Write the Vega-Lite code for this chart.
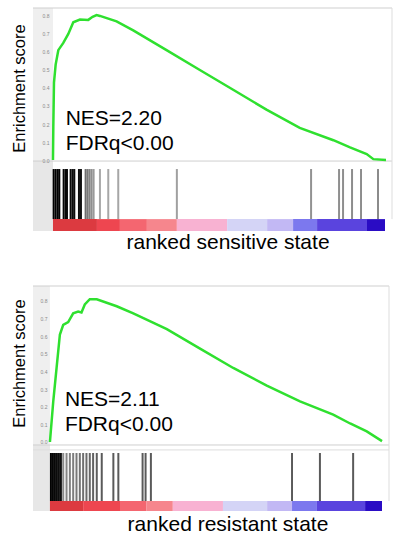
{
  "$schema": "https://vega.github.io/schema/vega-lite/v6.json",
  "background": "white",
  "padding": {"left": 10, "top": 7, "right": 0, "bottom": 0},
  "config": {"font": "Liberation Sans", "view": {"stroke": null}, "axis": {"labelOverlap": false}, "axisY": {"labelOverlap": false}},
  "spacing": 33,
  "resolve": {"scale": {"stroke": "independent", "fill": "independent"}},
  "datasets": {
    "es1": [
      {"rank": 0, "es": 0}, {"rank": 1, "es": 0.185}, {"rank": 3, "es": 0.43}, {"rank": 8, "es": 0.53},
      {"rank": 16, "es": 0.61}, {"rank": 31, "es": 0.65}, {"rank": 46, "es": 0.7}, {"rank": 61, "es": 0.765},
      {"rank": 81, "es": 0.78}, {"rank": 106, "es": 0.778}, {"rank": 119, "es": 0.795}, {"rank": 131, "es": 0.805},
      {"rank": 141, "es": 0.8}, {"rank": 191, "es": 0.77}, {"rank": 241, "es": 0.72}, {"rank": 341, "es": 0.61},
      {"rank": 441, "es": 0.5}, {"rank": 541, "es": 0.39}, {"rank": 641, "es": 0.28}, {"rank": 741, "es": 0.178},
      {"rank": 842, "es": 0.11}, {"rank": 892, "es": 0.07}, {"rank": 942, "es": 0.033}, {"rank": 962, "es": 0.005},
      {"rank": 1000, "es": 0.0}
    ],
    "es2": [
      {"rank": 0, "es": 0}, {"rank": 10, "es": 0.23}, {"rank": 20, "es": 0.42}, {"rank": 30, "es": 0.61},
      {"rank": 40, "es": 0.665}, {"rank": 55, "es": 0.68}, {"rank": 70, "es": 0.73}, {"rank": 85, "es": 0.74},
      {"rank": 95, "es": 0.735}, {"rank": 105, "es": 0.78}, {"rank": 120, "es": 0.81}, {"rank": 141, "es": 0.81},
      {"rank": 201, "es": 0.77}, {"rank": 251, "es": 0.73}, {"rank": 352, "es": 0.64}, {"rank": 452, "es": 0.53},
      {"rank": 552, "es": 0.42}, {"rank": 653, "es": 0.32}, {"rank": 753, "es": 0.23}, {"rank": 853, "es": 0.155},
      {"rank": 904, "es": 0.105}, {"rank": 954, "es": 0.06}, {"rank": 1000, "es": 0.005}
    ],
    "hits1": [
      {"rank": 2}, {"rank": 8}, {"rank": 14}, {"rank": 19}, {"rank": 32}, {"rank": 38}, {"rank": 42},
      {"rank": 53}, {"rank": 59}, {"rank": 64}, {"rank": 78}, {"rank": 84}, {"rank": 98}, {"rank": 104},
      {"rank": 110}, {"rank": 116}, {"rank": 122}, {"rank": 141}, {"rank": 166}, {"rank": 196}, {"rank": 372},
      {"rank": 775}, {"rank": 859}, {"rank": 871}, {"rank": 898}, {"rank": 925}, {"rank": 976}
    ],
    "hits2": [
      {"rank": 3}, {"rank": 9}, {"rank": 15}, {"rank": 21}, {"rank": 27}, {"rank": 33}, {"rank": 40},
      {"rank": 50}, {"rank": 60}, {"rank": 70}, {"rank": 80}, {"rank": 90}, {"rank": 100}, {"rank": 110},
      {"rank": 120}, {"rank": 130}, {"rank": 141}, {"rank": 156}, {"rank": 191}, {"rank": 206}, {"rank": 279},
      {"rank": 288}, {"rank": 304}, {"rank": 729}, {"rank": 813}, {"rank": 913}
    ],
    "bar1": [
      {"start": 0, "end": 132, "level": 1}, {"start": 132, "end": 201, "level": 2}, {"start": 201, "end": 282, "level": 3},
      {"start": 282, "end": 372, "level": 4}, {"start": 372, "end": 523, "level": 5}, {"start": 523, "end": 643, "level": 6},
      {"start": 643, "end": 721, "level": 7}, {"start": 721, "end": 793, "level": 8}, {"start": 793, "end": 943, "level": 9},
      {"start": 943, "end": 997, "level": 10}
    ],
    "bar2": [
      {"start": 0, "end": 100, "level": 1}, {"start": 100, "end": 211, "level": 2}, {"start": 211, "end": 291, "level": 3},
      {"start": 291, "end": 370, "level": 4}, {"start": 370, "end": 521, "level": 5}, {"start": 521, "end": 654, "level": 6},
      {"start": 654, "end": 729, "level": 7}, {"start": 729, "end": 804, "level": 8}, {"start": 804, "end": 949, "level": 9},
      {"start": 949, "end": 1000, "level": 10}
    ],
    "stats1": [{"nes": "NES=2.20", "fdr": "FDRq<0.00"}],
    "stats2": [{"nes": "NES=2.11", "fdr": "FDRq<0.00"}],
    "one": [{}]
  },
  "vconcat": [
    {
      "width": 359, "height": 223,
      "layer": [
        {
          "data": {"name": "one"},
          "mark": {"type": "rect", "color": "#efefef"},
          "encoding": {
            "x": {"datum": -60, "type": "quantitative", "scale": {"domain": [-60, 1018], "nice": false, "zero": false},
              "axis": {"title": "ranked sensitive state", "labels": false, "ticks": false, "domain": false, "grid": false,
                "titleFontSize": 21, "titleFontWeight": "normal", "titleColor": "#000", "titlePadding": 0, "titleX": 194.5}},
            "x2": {"datum": 0},
            "y": {"datum": 0.844, "type": "quantitative", "scale": {"domain": [-0.394, 0.844], "nice": false, "zero": false},
              "axis": {"title": "Enrichment score", "titleFontSize": 16.5, "titleFontWeight": "normal", "titleColor": "#000", "titlePadding": 6, "titleY": 80,
                "values": [0, 0.1, 0.2, 0.3, 0.4, 0.5, 0.6, 0.7, 0.8], "tickCount": 9, "format": ".1f", "labelFontSize": 5, "labelColor": "#8a8a8a",
                "labelOverlap": false, "labelSeparation": 0, "ticks": false, "tickSize": 0, "domain": false, "grid": false, "labelPadding": -16, "minExtent": 0, "zindex": 1}},
            "y2": {"datum": -0.0056}
          }
        },
        {
          "data": {"name": "one"},
          "mark": {"type": "rect", "color": "#e7e7e7"},
          "encoding": {
            "x": {"datum": -60, "type": "quantitative", "scale": {"domain": [-60, 1018], "nice": false, "zero": false}},
            "x2": {"datum": 0},
            "y": {"datum": -0.0056, "type": "quantitative", "scale": {"domain": [-0.394, 0.844], "nice": false, "zero": false}},
            "y2": {"datum": -0.394}
          }
        },
        {
          "data": {"name": "one"},
          "mark": {"type": "rule", "color": "#cfcfcf", "strokeWidth": 1},
          "encoding": {
            "x": {"datum": -60, "type": "quantitative", "scale": {"domain": [-60, 1018], "nice": false, "zero": false}},
            "x2": {"datum": 1018},
            "y": {"datum": 0.844, "type": "quantitative", "scale": {"domain": [-0.394, 0.844], "nice": false, "zero": false}}
          }
        },
        {
          "data": {"name": "one"},
          "mark": {"type": "rule", "color": "#cfcfcf", "strokeWidth": 1},
          "encoding": {
            "x": {"datum": -60, "type": "quantitative", "scale": {"domain": [-60, 1018], "nice": false, "zero": false}},
            "x2": {"datum": 1018},
            "y": {"datum": -0.0056, "type": "quantitative", "scale": {"domain": [-0.394, 0.844], "nice": false, "zero": false}}
          }
        },
        {
          "data": {"name": "one"},
          "mark": {"type": "rule", "color": "#dddddd", "strokeWidth": 1},
          "encoding": {
            "x": {"datum": 1018, "type": "quantitative", "scale": {"domain": [-60, 1018], "nice": false, "zero": false}},
            "y": {"datum": 0.844, "type": "quantitative", "scale": {"domain": [-0.394, 0.844], "nice": false, "zero": false}},
            "y2": {"datum": -0.328}
          }
        },
        {
          "data": {"name": "es1"},
          "mark": {"type": "line", "color": "#2fe02f", "strokeWidth": 2.5},
          "encoding": {
            "x": {"field": "rank", "type": "quantitative", "scale": {"domain": [-60, 1018], "nice": false, "zero": false}},
            "y": {"field": "es", "type": "quantitative", "scale": {"domain": [-0.394, 0.844], "nice": false, "zero": false}}
          }
        },
        {
          "data": {"name": "hits1"},
          "mark": {"type": "rule", "strokeWidth": 2},
          "encoding": {
            "x": {"field": "rank", "type": "quantitative", "scale": {"domain": [-60, 1018], "nice": false, "zero": false}},
            "y": {"datum": -0.05, "type": "quantitative", "scale": {"domain": [-0.394, 0.844], "nice": false, "zero": false}},
            "y2": {"datum": -0.328},
            "stroke": {"field": "rank", "type": "quantitative", "scale": {"domain": [0, 88, 96, 130, 1000], "range": ["#000000", "#111111", "#6a6a6a", "#a8a8a8", "#8a8a8a"]}, "legend": null}
          }
        },
        {
          "data": {"name": "bar1"},
          "mark": {"type": "rect"},
          "encoding": {
            "x": {"field": "start", "type": "quantitative", "scale": {"domain": [-60, 1018], "nice": false, "zero": false}},
            "x2": {"field": "end"},
            "y": {"datum": -0.328, "type": "quantitative", "scale": {"domain": [-0.394, 0.844], "nice": false, "zero": false}},
            "y2": {"datum": -0.394},
            "fill": {"field": "level", "type": "ordinal", "scale": {"domain": [1, 2, 3, 4, 5, 6, 7, 8, 9, 10],
              "range": ["#dc3a40", "#ee4650", "#f46670", "#f6868d", "#f8b2d2", "#d4d4f6", "#c2b8f4", "#7c78ee", "#5a44de", "#2a0cc4"]}, "legend": null}
          }
        },
        {
          "data": {"name": "stats1"},
          "mark": {"type": "text", "align": "left", "baseline": "alphabetic", "fontSize": 21, "color": "#000"},
          "encoding": {
            "x": {"datum": 38, "type": "quantitative", "scale": {"domain": [-60, 1018], "nice": false, "zero": false}},
            "y": {"datum": 0.194, "type": "quantitative", "scale": {"domain": [-0.394, 0.844], "nice": false, "zero": false}},
            "text": {"field": "nes"}
          }
        },
        {
          "data": {"name": "stats1"},
          "mark": {"type": "text", "align": "left", "baseline": "alphabetic", "fontSize": 21, "color": "#000"},
          "encoding": {
            "x": {"datum": 38, "type": "quantitative", "scale": {"domain": [-60, 1018], "nice": false, "zero": false}},
            "y": {"datum": 0.056, "type": "quantitative", "scale": {"domain": [-0.394, 0.844], "nice": false, "zero": false}},
            "text": {"field": "fdr"}
          }
        }
      ]
    },
    {
      "width": 356, "height": 225,
      "layer": [
        {
          "data": {"name": "one"},
          "mark": {"type": "rect", "color": "#efefef"},
          "encoding": {
            "x": {"datum": -51, "type": "quantitative", "scale": {"domain": [-51, 1021], "nice": false, "zero": false},
              "axis": {"title": "ranked resistant state", "labels": false, "ticks": false, "domain": false, "grid": false,
                "titleFontSize": 21, "titleFontWeight": "normal", "titleColor": "#000", "titlePadding": 2, "titleX": 194.5}},
            "x2": {"datum": 0},
            "y": {"datum": 0.885, "type": "quantitative", "scale": {"domain": [-0.3915, 0.885], "nice": false, "zero": false},
              "axis": {"title": "Enrichment score", "titleFontSize": 16.5, "titleFontWeight": "normal", "titleColor": "#000", "titlePadding": 6, "titleY": 77,
                "values": [0, 0.1, 0.2, 0.3, 0.4, 0.5, 0.6, 0.7, 0.8], "tickCount": 9, "format": ".1f", "labelFontSize": 5, "labelColor": "#8a8a8a",
                "labelOverlap": false, "labelSeparation": 0, "ticks": false, "tickSize": 0, "domain": false, "grid": false, "labelPadding": -14, "minExtent": 0, "zindex": 1}},
            "y2": {"datum": -0.017}
          }
        },
        {
          "data": {"name": "one"},
          "mark": {"type": "rect", "color": "#e7e7e7"},
          "encoding": {
            "x": {"datum": -51, "type": "quantitative", "scale": {"domain": [-51, 1021], "nice": false, "zero": false}},
            "x2": {"datum": 0},
            "y": {"datum": -0.017, "type": "quantitative", "scale": {"domain": [-0.3915, 0.885], "nice": false, "zero": false}},
            "y2": {"datum": -0.3915}
          }
        },
        {
          "data": {"name": "one"},
          "mark": {"type": "rule", "color": "#cfcfcf", "strokeWidth": 1},
          "encoding": {
            "x": {"datum": -51, "type": "quantitative", "scale": {"domain": [-51, 1021], "nice": false, "zero": false}},
            "x2": {"datum": 1021},
            "y": {"datum": 0.885, "type": "quantitative", "scale": {"domain": [-0.3915, 0.885], "nice": false, "zero": false}}
          }
        },
        {
          "data": {"name": "one"},
          "mark": {"type": "rule", "color": "#cfcfcf", "strokeWidth": 1},
          "encoding": {
            "x": {"datum": -51, "type": "quantitative", "scale": {"domain": [-51, 1021], "nice": false, "zero": false}},
            "x2": {"datum": 1021},
            "y": {"datum": -0.017, "type": "quantitative", "scale": {"domain": [-0.3915, 0.885], "nice": false, "zero": false}}
          }
        },
        {
          "data": {"name": "one"},
          "mark": {"type": "rule", "color": "#dddddd", "strokeWidth": 1},
          "encoding": {
            "x": {"datum": -51, "type": "quantitative", "scale": {"domain": [-51, 1021], "nice": false, "zero": false}},
            "x2": {"datum": 1021},
            "y": {"datum": -0.045, "type": "quantitative", "scale": {"domain": [-0.3915, 0.885], "nice": false, "zero": false}}
          }
        },
        {
          "data": {"name": "one"},
          "mark": {"type": "rule", "color": "#dddddd", "strokeWidth": 1},
          "encoding": {
            "x": {"datum": 1021, "type": "quantitative", "scale": {"domain": [-51, 1021], "nice": false, "zero": false}},
            "y": {"datum": 0.885, "type": "quantitative", "scale": {"domain": [-0.3915, 0.885], "nice": false, "zero": false}},
            "y2": {"datum": -0.3348}
          }
        },
        {
          "data": {"name": "es2"},
          "mark": {"type": "line", "color": "#2fe02f", "strokeWidth": 2.5},
          "encoding": {
            "x": {"field": "rank", "type": "quantitative", "scale": {"domain": [-51, 1021], "nice": false, "zero": false}},
            "y": {"field": "es", "type": "quantitative", "scale": {"domain": [-0.3915, 0.885], "nice": false, "zero": false}}
          }
        },
        {
          "data": {"name": "hits2"},
          "mark": {"type": "rule", "strokeWidth": 2},
          "encoding": {
            "x": {"field": "rank", "type": "quantitative", "scale": {"domain": [-51, 1021], "nice": false, "zero": false}},
            "y": {"datum": -0.0624, "type": "quantitative", "scale": {"domain": [-0.3915, 0.885], "nice": false, "zero": false}},
            "y2": {"datum": -0.3348},
            "stroke": {"field": "rank", "type": "quantitative", "scale": {"domain": [0, 36, 40, 150, 1000], "range": ["#000000", "#111111", "#8a8a8a", "#5a5a5a", "#5a5a5a"]}, "legend": null}
          }
        },
        {
          "data": {"name": "bar2"},
          "mark": {"type": "rect"},
          "encoding": {
            "x": {"field": "start", "type": "quantitative", "scale": {"domain": [-51, 1021], "nice": false, "zero": false}},
            "x2": {"field": "end"},
            "y": {"datum": -0.3348, "type": "quantitative", "scale": {"domain": [-0.3915, 0.885], "nice": false, "zero": false}},
            "y2": {"datum": -0.3915},
            "fill": {"field": "level", "type": "ordinal", "scale": {"domain": [1, 2, 3, 4, 5, 6, 7, 8, 9, 10],
              "range": ["#dc3a40", "#ee4650", "#f46670", "#f6868d", "#f8b2d2", "#d4d4f6", "#c2b8f4", "#7c78ee", "#5a44de", "#2a0cc4"]}, "legend": null}
          }
        },
        {
          "data": {"name": "stats2"},
          "mark": {"type": "text", "align": "left", "baseline": "alphabetic", "fontSize": 21, "color": "#000"},
          "encoding": {
            "x": {"datum": 45, "type": "quantitative", "scale": {"domain": [-51, 1021], "nice": false, "zero": false}},
            "y": {"datum": 0.205, "type": "quantitative", "scale": {"domain": [-0.3915, 0.885], "nice": false, "zero": false}},
            "text": {"field": "nes"}
          }
        },
        {
          "data": {"name": "stats2"},
          "mark": {"type": "text", "align": "left", "baseline": "alphabetic", "fontSize": 21, "color": "#000"},
          "encoding": {
            "x": {"datum": 45, "type": "quantitative", "scale": {"domain": [-51, 1021], "nice": false, "zero": false}},
            "y": {"datum": 0.0625, "type": "quantitative", "scale": {"domain": [-0.3915, 0.885], "nice": false, "zero": false}},
            "text": {"field": "fdr"}
          }
        }
      ]
    }
  ]
}
